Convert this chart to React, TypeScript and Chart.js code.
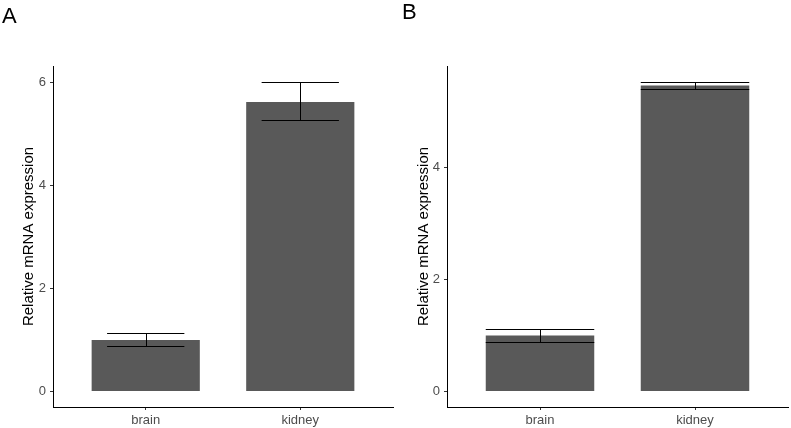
import React, { useEffect, useRef } from 'react';
import { Chart, registerables } from 'chart.js';

Chart.register(...registerables);

// ---- data ----
const categories = ['brain', 'kidney'];

const meansA = [1.0, 5.62];
const lowA = [0.88, 5.28];
const highA = [1.13, 6.02];
const yTicksA = [0, 2, 4, 6];

const meansB = [1.0, 5.47];
const lowB = [0.88, 5.4];
const highB = [1.12, 5.54];
const yTicksB = [0, 2, 4];

const FONT = "'Liberation Sans', Arial, Helvetica, sans-serif";

const errorBarPlugin = {
  id: 'errorBars',
  afterDatasetsDraw(chart: any, _args: any, opts: any) {
    const { ctx } = chart;
    const x = chart.scales.x;
    const y = chart.scales.y;
    ctx.save();
    ctx.strokeStyle = '#000000';
    ctx.lineWidth = 1;
    const a = (v: number) => Math.round(v) + 0.5;
    opts.low.forEach((lo: number, i: number) => {
      const xv = i + 1;
      const cx = a(x.getPixelForValue(xv));
      const x0 = x.getPixelForValue(xv - opts.cap / 2);
      const x1 = x.getPixelForValue(xv + opts.cap / 2);
      const yl = a(y.getPixelForValue(lo));
      const yh = a(y.getPixelForValue(opts.high[i]));
      ctx.beginPath();
      ctx.moveTo(cx, yl);
      ctx.lineTo(cx, yh);
      ctx.moveTo(x0, yh);
      ctx.lineTo(x1, yh);
      ctx.moveTo(x0, yl);
      ctx.lineTo(x1, yl);
      ctx.stroke();
    });
    ctx.restore();
  },
};

const panelLabelPlugin = {
  id: 'panelLabel',
  afterDraw(chart: any, _args: any, opts: any) {
    const { ctx } = chart;
    ctx.save();
    ctx.fillStyle = '#000000';
    ctx.font = `22px ${FONT}`;
    ctx.textBaseline = 'alphabetic';
    ctx.textAlign = 'left';
    ctx.fillText(opts.text, opts.x, opts.y);
    ctx.restore();
  },
};

type PanelProps = {
  means: number[];
  low: number[];
  high: number[];
  yTicks: number[];
  cap: number;
  label: string;
  labelX: number;
  labelY: number;
  width: number;
  left: number;
  axisWidth: number;
  padRight: number;
};

function Panel(p: PanelProps) {
  const ref = useRef<HTMLCanvasElement>(null);
  useEffect(() => {
    if (!ref.current) return;
    const maxV = Math.max(...p.high);
    const yMin = -0.05 * maxV;
    const yMax = 1.05 * maxV;
    const chart = new Chart(ref.current, {
      type: 'bar',
      data: {
        datasets: [
          {
            data: p.means.map((v, i) => ({ x: i + 1, y: v })),
            backgroundColor: '#595959',
            borderWidth: 0,
            barPercentage: 0.7,
            categoryPercentage: 1.0,
          },
        ],
      },
      plugins: [errorBarPlugin, panelLabelPlugin],
      options: {
        responsive: false,
        animation: false,
        devicePixelRatio: 1,
        layout: { padding: { top: 66, right: p.padRight, bottom: 0, left: 0 } },
        plugins: {
          legend: { display: false },
          tooltip: { enabled: false },
          errorBars: { low: p.low, high: p.high, cap: p.cap },
          panelLabel: { text: p.label, x: p.labelX, y: p.labelY },
        } as any,
        scales: {
          x: {
            type: 'linear',
            min: 0.4,
            max: 2.6,
            offset: false,
            afterBuildTicks: (s: any) => {
              s.ticks = categories.map((_, i) => ({ value: i + 1 }));
            },
            afterFit: (s: any) => {
              s.height = 21;
            },
            grid: {
              offset: false,
              drawOnChartArea: false,
              drawTicks: true,
              tickLength: 3,
              color: '#333333',
            },
            border: { display: true, color: '#000000', width: 1 },
            ticks: {
              callback: (v: any) => categories[Math.round(Number(v)) - 1] ?? '',
              color: '#4d4d4d',
              font: { family: FONT, size: 13 },
              padding: 3,
              maxRotation: 0,
              autoSkip: false,
            },
          },
          y: {
            type: 'linear',
            min: yMin,
            max: yMax,
            afterBuildTicks: (s: any) => {
              s.ticks = p.yTicks.map((v) => ({ value: v }));
            },
            afterFit: (s: any) => {
              s.width = p.axisWidth;
            },
            grid: { drawOnChartArea: false, drawTicks: true, tickLength: 3, color: '#333333' },
            border: { display: true, color: '#000000', width: 1 },
            ticks: {
              callback: (v: any) => String(v),
              color: '#4d4d4d',
              font: { family: FONT, size: 13 },
              padding: 4,
            },
            title: {
              display: true,
              text: 'Relative mRNA expression',
              color: '#000000',
              font: { family: FONT, size: 15 },
              padding: { top: 20, bottom: 0 },
            },
          },
        },
      } as any,
    });
    return () => chart.destroy();
  }, []);
  return (
    <div style={{ position: 'absolute', left: p.left, top: 0, width: p.width, height: 428 }}>
      <canvas ref={ref} width={p.width} height={428} style={{ display: 'block' }} />
    </div>
  );
}

export default function App() {
  return (
    <div
      style={{
        position: 'fixed',
        left: 0,
        top: 0,
        width: 791,
        height: 428,
        background: '#ffffff',
        overflow: 'hidden',
      }}
    >
      <Panel
        means={meansA}
        low={lowA}
        high={highA}
        yTicks={yTicksA}
        cap={0.5}
        label="A"
        labelX={2}
        labelY={23}
        width={395}
        left={0}
        axisWidth={53}
        padRight={2}
      />
      <Panel
        means={meansB}
        low={lowB}
        high={highB}
        yTicks={yTicksB}
        cap={0.7}
        label="B"
        labelX={7}
        labelY={19}
        width={396}
        left={395}
        axisWidth={52}
        padRight={3}
      />
    </div>
  );
}
